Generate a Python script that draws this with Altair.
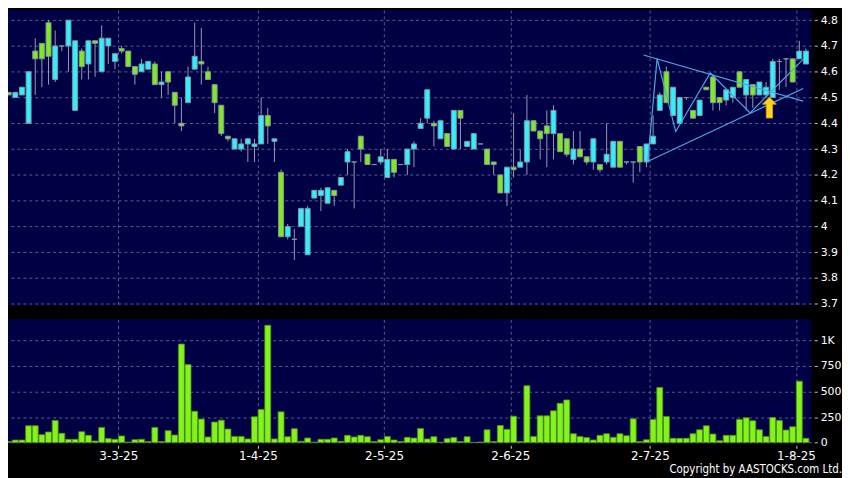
import altair as alt
import pandas as pd

# ---- data (index 0 = first trading day shown) ----
open_ = [4.52, 4.50, 4.51, 4.40, 4.68, 4.71, 4.79, 4.57, 4.70, 4.70,
         4.45, 4.68, 4.63, 4.72, 4.60, 4.70, 4.64, 4.69, 4.68, 4.62,
         4.60, 4.61, 4.63, 4.55, 4.60, 4.52, 4.40, 4.48, 4.61, 4.64,
         4.60, 4.55, 4.47, 4.35, 4.30, 4.30, 4.32, 4.31, 4.32, 4.43,
         4.33, 4.21, 3.96, 3.95, 4.00, 3.89, 4.11, 4.12, 4.09, 4.14,
         4.16, 4.25, 4.25, 4.35, 4.28, 4.24, 4.25, 4.19, 4.26, 4.24,
         4.24, 4.30, 4.38, 4.42, 4.40, 4.34, 4.36, 4.30, 4.45, 4.31,
         4.30, 4.32, 4.30, 4.25, 4.20, 4.13, 4.23, 4.23, 4.25, 4.41,
         4.37, 4.39, 4.36, 4.36, 4.34, 4.26, 4.30, 4.27, 4.25, 4.24,
         4.25, 4.23, 4.33, 4.25, 4.25, 4.31, 4.25, 4.32, 4.45, 4.60,
         4.43, 4.40, 4.50, 4.45, 4.43, 4.54, 4.58, 4.50, 4.49, 4.50,
         4.60, 4.51, 4.55, 4.51, 4.51, 4.50, 4.64, 4.65, 4.65, 4.65,
         4.63]
high = [4.52, 4.52, 4.54, 4.60, 4.73, 4.71, 4.80, 4.76, 4.70, 4.80,
        4.72, 4.69, 4.72, 4.72, 4.78, 4.73, 4.67, 4.70, 4.68, 4.62,
        4.65, 4.64, 4.64, 4.60, 4.60, 4.52, 4.50, 4.62, 4.79, 4.77,
        4.62, 4.55, 4.47, 4.35, 4.34, 4.34, 4.34, 4.34, 4.50, 4.46,
        4.34, 4.22, 4.01, 3.99, 4.07, 4.08, 4.14, 4.15, 4.15, 4.14,
        4.19, 4.30, 4.25, 4.35, 4.28, 4.24, 4.30, 4.30, 4.26, 4.24,
        4.30, 4.33, 4.42, 4.53, 4.41, 4.41, 4.36, 4.45, 4.45, 4.33,
        4.36, 4.32, 4.30, 4.25, 4.20, 4.23, 4.44, 4.30, 4.51, 4.41,
        4.37, 4.45, 4.47, 4.36, 4.34, 4.37, 4.37, 4.27, 4.34, 4.24,
        4.40, 4.33, 4.33, 4.25, 4.25, 4.31, 4.32, 4.43, 4.52, 4.62,
        4.54, 4.50, 4.50, 4.45, 4.49, 4.54, 4.59, 4.50, 4.53, 4.54,
        4.60, 4.57, 4.55, 4.56, 4.56, 4.65, 4.65, 4.65, 4.65, 4.72,
        4.69]
low = [4.51, 4.50, 4.51, 4.40, 4.51, 4.54, 4.55, 4.56, 4.68, 4.60,
       4.45, 4.57, 4.57, 4.58, 4.60, 4.63, 4.61, 4.67, 4.62, 4.55,
       4.60, 4.61, 4.55, 4.50, 4.51, 4.40, 4.37, 4.48, 4.61, 4.55,
       4.57, 4.44, 4.35, 4.33, 4.30, 4.29, 4.25, 4.25, 4.32, 4.32,
       4.25, 3.96, 3.95, 3.87, 4.00, 3.89, 4.11, 4.06, 4.09, 4.08,
       4.16, 4.20, 4.07, 4.25, 4.24, 4.24, 4.24, 4.19, 4.19, 4.24,
       4.20, 4.23, 4.38, 4.40, 4.31, 4.34, 4.31, 4.30, 4.30, 4.31,
       4.30, 4.32, 4.24, 4.20, 4.13, 4.08, 4.19, 4.23, 4.20, 4.37,
       4.26, 4.23, 4.26, 4.29, 4.27, 4.24, 4.27, 4.24, 4.22, 4.21,
       4.24, 4.23, 4.23, 4.24, 4.17, 4.21, 4.23, 4.32, 4.45, 4.48,
       4.43, 4.40, 4.49, 4.42, 4.43, 4.53, 4.45, 4.45, 4.47, 4.48,
       4.54, 4.45, 4.46, 4.51, 4.50, 4.50, 4.53, 4.54, 4.56, 4.65,
       4.63]
close = [4.51, 4.52, 4.54, 4.60, 4.65, 4.65, 4.66, 4.70, 4.70, 4.80,
         4.72, 4.62, 4.72, 4.71, 4.73, 4.73, 4.67, 4.68, 4.62, 4.59,
         4.63, 4.64, 4.55, 4.56, 4.56, 4.47, 4.39, 4.58, 4.66, 4.63,
         4.57, 4.48, 4.36, 4.34, 4.34, 4.32, 4.34, 4.32, 4.43, 4.39,
         4.34, 3.96, 4.00, 3.95, 4.07, 4.07, 4.14, 4.14, 4.15, 4.12,
         4.19, 4.29, 4.25, 4.30, 4.24, 4.24, 4.27, 4.26, 4.21, 4.24,
         4.30, 4.32, 4.40, 4.53, 4.39, 4.41, 4.31, 4.45, 4.42, 4.33,
         4.36, 4.32, 4.24, 4.24, 4.13, 4.23, 4.22, 4.25, 4.41, 4.37,
         4.34, 4.36, 4.45, 4.29, 4.28, 4.30, 4.27, 4.25, 4.34, 4.22,
         4.28, 4.33, 4.23, 4.25, 4.25, 4.25, 4.32, 4.35, 4.51, 4.48,
         4.54, 4.50, 4.50, 4.42, 4.49, 4.53, 4.48, 4.48, 4.53, 4.54,
         4.54, 4.57, 4.51, 4.56, 4.54, 4.64, 4.64, 4.65, 4.56, 4.68,
         4.68]
volume = [10, 25, 25, 165, 165, 78, 104, 217, 91, 32,
          32, 107, 71, 16, 149, 39, 32, 65, 5, 29,
          32, 10, 149, 10, 117, 74, 965, 764, 307, 230,
          55, 201, 220, 133, 61, 61, 36, 252, 324, 1149,
          36, 301, 58, 136, 13, 45, 5, 32, 32, 45,
          13, 71, 55, 71, 58, 10, 29, 61, 26, 10,
          52, 45, 139, 36, 58, 3, 39, 49, 10, 58,
          2, 6, 126, 10, 168, 130, 259, 10, 557, 61,
          262, 262, 311, 385, 418, 87, 61, 49, 26, 71,
          87, 52, 87, 68, 233, 10, 29, 227, 540, 256,
          42, 42, 42, 87, 126, 165, 84, 19, 71, 71,
          227, 243, 214, 126, 61, 246, 217, 123, 155, 602,
          42]

date_labels = ["3-3-25", "1-4-25", "2-5-25", "2-6-25", "2-7-25", "1-8-25"]
date_pos = [16.5, 37.5, 56.5, 75.5, 96.5, 118.5]
price_ticks = [3.7, 3.8, 3.9, 4.0, 4.1, 4.2, 4.3, 4.4, 4.5, 4.6, 4.7, 4.8]
vol_ticks = [0, 250, 500, 750, 1000]

# chart-pattern annotations (index, price)
tri_upper_x = [95.55, 119.57]
tri_upper_p = [4.665, 4.486]
tri_lower_x = [96.15, 119.57]
tri_lower_p = [4.252, 4.535]
zig_x = [96.2, 97.6, 100.4, 105.6, 111.6, 119.6]
zig_p = [4.255, 4.651, 4.368, 4.595, 4.44, 4.649]
arrow_x = [114.5]
arrow_p = [4.461]

# ---- tables ----
n = len(close)
df = pd.DataFrame({"i": list(range(n)), "open": open_, "high": high,
                   "low": low, "close": close, "vol": volume})
df["top"] = df[["open", "close"]].max(axis=1)
df["bot"] = df[["open", "close"]].min(axis=1)
df["dir"] = ["up" if c > o else ("down" if c < o else "flat")
             for o, c in zip(open_, close)]

rows = []
for g, xs, ps in [("u", tri_upper_x, tri_upper_p), ("l", tri_lower_x, tri_lower_p),
                  ("z", zig_x, zig_p)]:
    for k, (a, b) in enumerate(zip(xs, ps)):
        rows.append({"g": g, "o": k, "x": a, "p": b})
ann = pd.DataFrame(rows)
arr = pd.DataFrame({"x": arrow_x, "p": arrow_p})

CYAN = "#30f0ff"
GREEN = "#80ea1e"
GRID = "#5a5a90"
xscale = alt.Scale(domain=[-0.1, 120.8], nice=False, zero=False, padding=0)
pscale = alt.Scale(domain=[3.6935, 4.8396], nice=False, zero=False, padding=0)
vscale = alt.Scale(domain=[-7, 1207], nice=False, zero=False, padding=0)

expr = ""
for pos, lab in zip(date_pos, date_labels):
    expr += f"datum.value < {pos + 0.3} ? '{lab}' : "
expr += "''"

x_price_axis = alt.Axis(values=date_pos, labels=False, ticks=False,
                        domain=False, grid=True, title=None)
y_price_axis = alt.Axis(orient="right", values=price_ticks, format=".1~f",
                        grid=True, domain=False, tickSize=3, offset=3,
                        labelPadding=3, labelOverlap=False, title=None)


def px(field):
    return alt.X(field, scale=xscale, axis=x_price_axis)


def py(field):
    return alt.Y(field, scale=pscale, axis=y_price_axis)


wick = alt.Chart(df).mark_rule(color="#9a9ab0", strokeWidth=1, clip=True).encode(
    x=px("i:Q"), y=py("low:Q"), y2="high:Q",
)
body = alt.Chart(df).mark_bar(size=5, stroke="#7f97a0", strokeWidth=1,
                              clip=True).encode(
    x=px("i:Q"), y=py("bot:Q"), y2="top:Q",
    color=alt.Color("dir:N", scale=alt.Scale(domain=["up", "down", "flat"],
                                             range=[CYAN, GREEN, "#b8c8b0"]),
                    legend=None),
)
lines = alt.Chart(ann).mark_line(color="#49a6e6", strokeWidth=1.2).encode(
    x=px("x:Q"), y=py("p:Q"), detail="g:N", order="o:Q",
)
arrow = alt.Chart(arr).mark_point(
    shape="M0,-1L0.67,-0.33L0.3,-0.33L0.3,1L-0.3,1L-0.3,-0.33L-0.67,-0.33Z",
    size=441, filled=True, fill="#ffd51c", stroke="#e09a00", strokeWidth=1,
    opacity=1,
).encode(x=px("x:Q"), y=py("p:Q"))

price = alt.layer(wick, body, lines, arrow).properties(width=810, height=298)

vol_bars = alt.Chart(df).mark_bar(size=6, color="#82f41c", stroke="#4f8f16",
                                  strokeWidth=0.8, clip=True).encode(
    x=alt.X("i:Q", scale=xscale,
            axis=alt.Axis(values=date_pos, labelExpr=expr, grid=True, domain=False,
                          tickSize=3, offset=2, labelPadding=2, title=None,
                          labelFontSize=12, tickColor="#cccccc")),
    y=alt.Y("vol:Q", scale=vscale,
            axis=alt.Axis(orient="right", values=vol_ticks,
                          labelExpr="datum.value >= 1000 ? '1K' : format(datum.value, 'd')",
                          grid=True, domain=False, tickSize=3, offset=3,
                          labelPadding=3, labelOverlap=False, title=None)),
    y2=alt.datum(0),
)
copy = alt.Chart(pd.DataFrame({"t": ["Copyright by AASTOCKS.com Ltd."]})).mark_text(
    align="right", baseline="middle", color="#ffffff",
    font="Liberation Sans Narrow, DejaVu Sans Condensed, Liberation Sans",
    fontSize=11.5,
).encode(x=alt.value(841), y=alt.value(152), text="t:N")

vol = alt.layer(vol_bars, copy).properties(width=810, height=125)

chart = alt.vconcat(price, vol, spacing=10).properties(
    background="#000000", padding=0
).configure_view(fill="#000044", stroke=None).configure_axis(
    gridColor=GRID, gridDash=[3, 3], gridWidth=1, labelColor="#ffffff",
    labelFont="DejaVu Sans", labelFontSize=11, tickColor="#cccccc",
    labelFontWeight="normal",
)

chart.save("out.html", embed_options={"renderer": "svg", "actions": False})
